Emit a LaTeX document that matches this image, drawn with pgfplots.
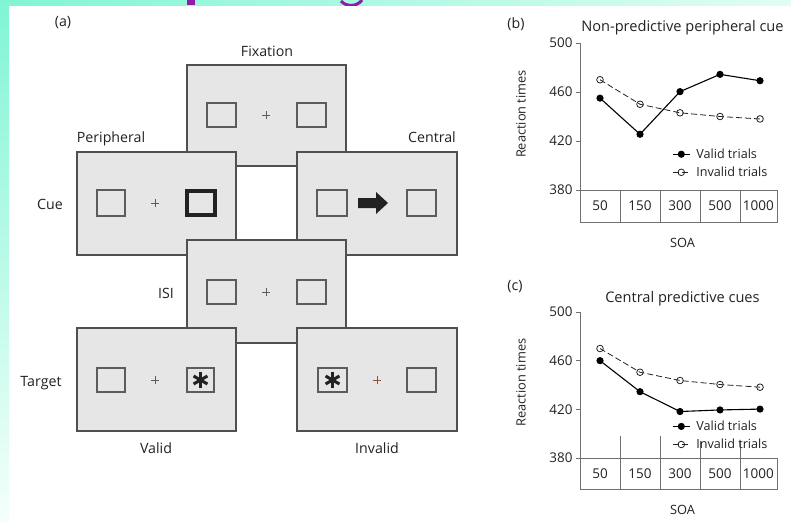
\documentclass[border=0pt]{standalone}
\usepackage{pgfplots}
\pgfplotsset{compat=1.18}
\usepackage{fontspec}
\setmainfont{Open Sans}
\definecolor{boxfill}{HTML}{E6E6E6}
\definecolor{boxdraw}{HTML}{505050}
\definecolor{sqdraw}{HTML}{5C5C5C}
\definecolor{axgray}{HTML}{707070}
\definecolor{txt}{HTML}{222222}
\definecolor{aqua}{RGB}{128,245,212}
\definecolor{aquatr}{RGB}{225,253,244}
\definecolor{aquabl}{RGB}{244,255,251}
\definecolor{purp}{RGB}{140,30,170}
\definecolor{brownplus}{RGB}{140,85,55}
\newcommand\lf{\fontsize{14.2}{16}\selectfont}
\newcommand\tf{\fontsize{14.6}{17}\selectfont}
\newcommand\nf{\fontsize{13.5}{16}\selectfont}
\newcommand\yf{\fontsize{13.4}{16}\selectfont}
\newcommand\gf{\fontsize{12.6}{15}\selectfont}
\pgfplotsset{rtstyle/.style={
  scale only axis, width=197pt, height=147pt,
  xmin=-0.5, xmax=4.425, ymin=380, ymax=500,
  axis lines=left, axis line style={-, draw=axgray, line width=0.8pt},
  ytick={380,420,460,500}, xtick=\empty,
  tick align=outside, major tick length=4pt,
  y tick style={draw=axgray, line width=0.8pt},
  tick label style={font=\yf, text=txt},
  /pgf/number format/assume math mode=true,
  clip=false,
  every axis y label/.style={at={(axis description cs:-0.3,0.517)}, anchor=center, rotate=90, font=\fontsize{12.8}{15}\selectfont, text=txt},
  every axis x label/.style={at={(axis description cs:0.52,-0.388)}, anchor=base, font=\fontsize{12.8}{15}\selectfont, text=txt},
  every axis title/.style={at={(axis description cs:0.52,1.075)}, anchor=base, font=\tf, text=txt},
  ylabel={Reaction times}, xlabel={SOA},
  legend cell align=left,
  legend style={draw=none, fill=none, font=\gf, text=txt, inner sep=0pt, row sep=5pt,
    nodes={inner sep=1pt},
    /tikz/every odd column/.append style={column sep=5pt}},
}}
\tikzset{scr/.style={fill=boxfill, draw=boxdraw, line width=1.2pt},
         sq/.style={fill=boxfill, draw=sqdraw, line width=1.1pt},
         valid/.style={color=black, line width=1.1pt, mark=*, mark size=3pt, mark options={solid, fill=black}},
         invalid/.style={color=txt, line width=0.8pt, dash pattern=on 6pt off 3pt, mark=o, mark size=3.3pt, mark options={solid, fill=white}}}
\newcommand\plus[3][sqdraw]{\draw[#1, line width=0.7pt] (#2-4,#3)--(#2+4,#3) (#2,#3-4)--(#2,#3+4);}
\newcommand\astk[2]{\draw[txt, line width=3pt] (#1,#2) ++(90:8) -- ++(270:16);
  \draw[txt, line width=3pt] (#1,#2) ++(30:8) -- ++(210:16);
  \draw[txt, line width=3pt] (#1,#2) ++(150:8) -- ++(330:16);}
\begin{document}
\begin{tikzpicture}
\useasboundingbox (0,0) rectangle (791pt,-522pt);
\fill[white] (0,0) rectangle (791pt,-522pt);
\shade[left color=aqua, right color=aquatr] (0,0) rectangle (791pt,-5pt);
\shade[top color=aqua, bottom color=aquabl] (0,0) rectangle (9pt,-522pt);
\begin{scope}
  \clip (0,0) rectangle (791pt,-5pt);
  \fill[purp] (187pt,1pt) rectangle (195pt,-5pt);
  \draw[purp, line width=3pt] (341pt,-1pt) .. controls (346pt,-7pt) and (357pt,-7pt) .. (362pt,0pt);
\end{scope}
\begin{scope}[x=1pt,y=-1pt]
  % fixation
  \draw[scr] (187,65) rectangle (346,166);
  \draw[sq] (207,103) rectangle (236,127);
  \draw[sq] (297,103) rectangle (326,127);
  \plus{266}{115}
  % peripheral cue
  \draw[scr] (77,152) rectangle (236,255);
  \draw[sq] (97,190) rectangle (125,216);
  \plus{155}{203}
  \draw[txt, line width=4pt, fill=boxfill] (187,191) rectangle (215,215);
  % central cue
  \draw[scr] (297,152) rectangle (457,255);
  \draw[sq] (317,190) rectangle (347,216);
  \draw[sq] (407,190) rectangle (436,216);
  \fill[txt] (358,198)--(376,198)--(376,192)--(388,203)--(376,214)--(376,208)--(358,208)--cycle;
  % ISI
  \draw[scr] (187,240) rectangle (346,343);
  \draw[sq] (207,280) rectangle (236,304);
  \draw[sq] (297,280) rectangle (326,304);
  \plus{266}{292}
  % valid target
  \draw[scr] (77,328) rectangle (236,431);
  \draw[sq] (97,368) rectangle (125,392);
  \plus{155}{380}
  \draw[sq] (187,368) rectangle (214,392);
  \astk{200.5}{380}
  % invalid target
  \draw[scr] (297,328) rectangle (457,431);
  \draw[sq] (318,368) rectangle (347,392);
  \astk{332.5}{380}
  \plus[brownplus]{377}{380}
  \draw[sq] (407,368) rectangle (436,392);
  % labels
  \node[font=\lf, text=txt] at (63,23) {(a)};
  \node[font=\lf, text=txt, anchor=base] at (267,56) {Fixation};
  \node[font=\lf, text=txt, anchor=base] at (111,142.5) {Peripheral};
  \node[font=\lf, text=txt, anchor=base] at (432,142) {Central};
  \node[font=\lf, text=txt, anchor=base] at (50,209) {Cue};
  \node[font=\lf, text=txt, anchor=base] at (166,298) {ISI};
  \node[font=\lf, text=txt, anchor=base] at (41,386) {Target};
  \node[font=\lf, text=txt, anchor=base] at (156,453) {Valid};
  \node[font=\lf, text=txt, anchor=base] at (377,453) {Invalid};
  \node[font=\lf, text=txt] at (516,24) {(b)};
  \node[font=\lf, text=txt] at (515,287) {(c)};
\end{scope}
% panel (b)
\begin{axis}[rtstyle, at={(580pt,-190pt)}, anchor=south west,
  title={Non-predictive peripheral cue},
  legend style={at={(axis cs:1.8,414.7)}, anchor=north west}]
\addplot[valid] coordinates {(0,455) (1,425.5) (2,460.3) (3,474.4) (4,469.2)};
\addlegendentry{Valid trials}
\addplot[invalid] coordinates {(0,470) (1,450) (2,443) (3,440) (4,438)};
\addlegendentry{Invalid trials}
\draw[axgray, line width=0.8pt] (axis cs:-0.5,380) -- (axis cs:-0.5,353.9) -- (axis cs:4.425,353.9) -- (axis cs:4.425,380);
\pgfplotsinvokeforeach{0.5,1.5,2.5,3.5}{\draw[axgray, line width=0.8pt] (axis cs:#1,380) -- (axis cs:#1,353.9);}
\node[font=\nf, text=txt] at (axis cs:0,367) {50};
\node[font=\nf, text=txt] at (axis cs:1,367) {150};
\node[font=\nf, text=txt] at (axis cs:2,367) {300};
\node[font=\nf, text=txt] at (axis cs:3,367) {500};
\node[font=\nf, text=txt] at (axis cs:3.96,367) {1000};
\end{axis}
% panel (c)
\begin{axis}[rtstyle, at={(580pt,-458pt)}, anchor=south west, height=146pt,
  title={Central predictive cues},
  every axis title/.style={at={(axis description cs:0.52,1.062)}, anchor=base, font=\tf, text=txt},
  legend style={at={(axis cs:1.8,411.5)}, anchor=north west}]
\pgfplotsinvokeforeach{0.5,1.5}{\draw[axgray, line width=0.8pt] (axis cs:#1,380) -- (axis cs:#1,398);}
\pgfplotsinvokeforeach{2.5,3.5}{\draw[axgray, line width=0.8pt] (axis cs:#1,380) -- (axis cs:#1,394);}
\addplot[valid] coordinates {(0,460) (1,434.5) (2,418.2) (3,419.5) (4,420.2)};
\addlegendentry{Valid trials}
\addplot[invalid] coordinates {(0,470) (1,450.5) (2,443.7) (3,440.4) (4,438.2)};
\addlegendentry{Invalid trials}
\draw[axgray, line width=0.8pt] (axis cs:-0.5,380) -- (axis cs:-0.5,353.9) -- (axis cs:4.425,353.9) -- (axis cs:4.425,380);
\pgfplotsinvokeforeach{0.5,1.5,2.5,3.5}{\draw[axgray, line width=0.8pt] (axis cs:#1,380) -- (axis cs:#1,353.9);}
\node[font=\nf, text=txt] at (axis cs:0,367) {50};
\node[font=\nf, text=txt] at (axis cs:1,367) {150};
\node[font=\nf, text=txt] at (axis cs:2,367) {300};
\node[font=\nf, text=txt] at (axis cs:3,367) {500};
\node[font=\nf, text=txt] at (axis cs:3.96,367) {1000};
\end{axis}
\end{tikzpicture}
\end{document}
